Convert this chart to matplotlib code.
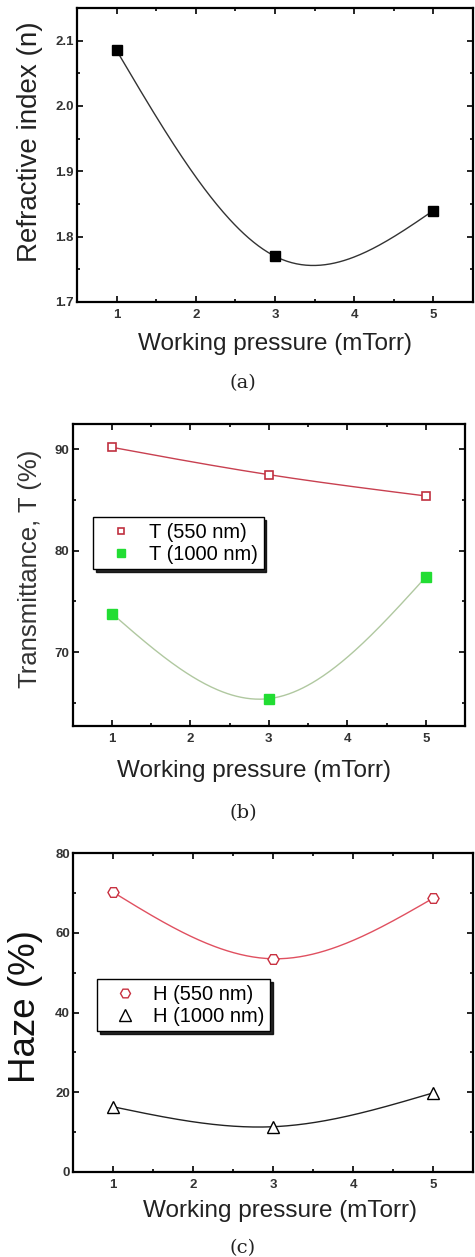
import numpy as np
import matplotlib
matplotlib.use("Agg")
import matplotlib.pyplot as plt
from matplotlib.ticker import MultipleLocator, FormatStrFormatter

plt.rcParams['font.family'] = ['Liberation Sans', 'DejaVu Sans']

# ---- data ----
pressure = [1, 3, 5]
refr_index = [2.085, 1.77, 1.84]
t550 = [90.2, 87.5, 85.4]
t1000 = [73.8, 65.4, 77.4]
h550 = [70.2, 53.5, 68.7]
h1000 = [16.3, 11.3, 19.8]
captions = ["(a)", "(b)", "(c)"]
xlabel_text = "Working pressure (mTorr)"


def natural_spline(x, y, xs):
    x = np.asarray(x, float); y = np.asarray(y, float)
    n = len(x); h = np.diff(x)
    A = np.zeros((n, n)); b = np.zeros(n)
    A[0, 0] = 1; A[-1, -1] = 1
    for i in range(1, n - 1):
        A[i, i - 1] = h[i - 1] / 6
        A[i, i] = (h[i - 1] + h[i]) / 3
        A[i, i + 1] = h[i] / 6
        b[i] = (y[i + 1] - y[i]) / h[i] - (y[i] - y[i - 1]) / h[i - 1]
    M = np.linalg.solve(A, b)
    xs = np.asarray(xs, float); out = np.empty_like(xs)
    for k, xv in enumerate(xs):
        i = min(max(np.searchsorted(x, xv) - 1, 0), n - 2)
        hi = h[i]; a = x[i + 1] - xv; c = xv - x[i]
        out[k] = (M[i] * a**3 / (6 * hi) + M[i + 1] * c**3 / (6 * hi)
                  + (y[i] / hi - M[i] * hi / 6) * a
                  + (y[i + 1] / hi - M[i + 1] * hi / 6) * c)
    return out


W, H = 475, 1257
fig = plt.figure(figsize=(W / 100, H / 100), dpi=100)

def style_axes(ax, ypad=2.5):
    for s in ax.spines.values():
        s.set_linewidth(1.6)
    ax.tick_params(which='both', direction='in', top=True, right=True,
                   width=1.2, labelsize=9.5)
    ax.tick_params(axis='x', pad=5)
    ax.tick_params(axis='y', pad=ypad)
    ax.tick_params(which='major', length=4)
    ax.tick_params(which='minor', length=2.5)
    for lab in ax.get_xticklabels() + ax.get_yticklabels():
        lab.set_fontweight('bold')
        lab.set_color('#333333')
    ax.set_xlim(0.5, 5.5)
    ax.xaxis.set_major_locator(MultipleLocator(1))
    ax.xaxis.set_minor_locator(MultipleLocator(0.5))

def style_legend(leg):
    fr = leg.get_frame()
    fr.set_linewidth(1.0)
    fr.set_edgecolor('black')

xs = np.linspace(1, 5, 200)
leg_kw = dict(loc='upper left', borderaxespad=0, fancybox=False,
              shadow={'color': 'black', 'alpha': 0.85},
              fontsize=14.5, handletextpad=0.3, borderpad=0.28,
              labelspacing=0.15, handlelength=2.2,
              framealpha=1)

# ---- panel (a) ----
ax1 = fig.add_axes([77 / W, 1 - 302 / H, 396 / W, 294 / H])
ax1.plot(xs, natural_spline(pressure, refr_index, xs), color='#333333', lw=1.0)
ax1.plot(pressure, refr_index, 's', color='black', ms=6.5, ls='none')
ax1.set_ylim(1.7, 2.15)
ax1.yaxis.set_major_locator(MultipleLocator(0.1))
ax1.yaxis.set_minor_locator(MultipleLocator(0.05))
ax1.yaxis.set_major_formatter(FormatStrFormatter('%.1f'))
style_axes(ax1)
ax1.set_ylabel("Refractive index (n)", fontsize=20, color='#222222')
ax1.yaxis.set_label_coords(-0.085, 0.546)
ax1.set_xlabel(xlabel_text, fontsize=17.5, color='#222222')
ax1.xaxis.set_label_coords(0.5, -0.105)

# ---- panel (b) ----
ax2 = fig.add_axes([72.7 / W, 1 - 726 / H, 392.3 / W, 302 / H])
ax2.plot(xs, natural_spline(pressure, t550, xs), color='#c84050', lw=1.0)
ax2.plot(xs, natural_spline(pressure, t1000, xs), color='#b0c8a0', lw=1.0)
ax2.plot(pressure, t550, 's', mfc='white', mec='#c03040', mew=1.2, ms=6,
         ls='none', label='T (550 nm)')
ax2.plot(pressure, t1000, 's', color='#22dd33', ms=7, ls='none',
         label='T (1000 nm)')
ax2.set_ylim(62.7, 92.5)
ax2.yaxis.set_major_locator(MultipleLocator(10))
ax2.yaxis.set_minor_locator(MultipleLocator(5))
style_axes(ax2)
ax2.set_ylabel("Transmittance, T (%)", fontsize=18.5, color='#333333')
ax2.yaxis.set_label_coords(-0.078, 0.52)
ax2.set_xlabel(xlabel_text, fontsize=17.5, color='#222222')
ax2.xaxis.set_label_coords(0.462, -0.112)
leg2 = ax2.legend(bbox_to_anchor=((93 - 72.7) / 392.3, 1 - (517 - 424) / 302),
                  markerscale=0.75, **leg_kw)
style_legend(leg2)

# ---- panel (c) ----
ax3 = fig.add_axes([73.3 / W, 1 - 1171.7 / H, 399.7 / W, 318.4 / H])
ax3.plot(xs, natural_spline(pressure, h550, xs), color='#e05060', lw=1.0)
ax3.plot(xs, natural_spline(pressure, h1000, xs), color='#222222', lw=1.0)
ax3.plot(pressure, h550, 'H', mfc='white', mec='#c83040', mew=1.0, ms=8,
         ls='none', label='H (550 nm)')
ax3.plot(pressure, h1000, '^', mfc='white', mec='black', mew=1.0, ms=9,
         ls='none', label='H (1000 nm)')
ax3.set_ylim(0, 80)
ax3.yaxis.set_major_locator(MultipleLocator(20))
ax3.yaxis.set_minor_locator(MultipleLocator(10))
style_axes(ax3)
ax3.set_ylabel("Haze (%)", fontsize=26.5, color='#111111')
ax3.yaxis.set_label_coords(-0.076, 0.519)
ax3.set_xlabel(xlabel_text, fontsize=17.5, color='#222222')
ax3.xaxis.set_label_coords(0.517, -0.09)
leg3 = ax3.legend(bbox_to_anchor=((97 - 73.3) / 399.7, 1 - (979 - 853.3) / 318.4),
                  markerscale=0.9, **leg_kw)
style_legend(leg3)

# ---- captions ----
for cap, yp in zip(captions, [383, 813, 1248]):
    fig.text(243 / W, 1 - yp / H, cap, ha='center', va='center', fontsize=14,
             family=['DejaVu Serif'], color='#222222')

fig.savefig("out.png", dpi=100)
